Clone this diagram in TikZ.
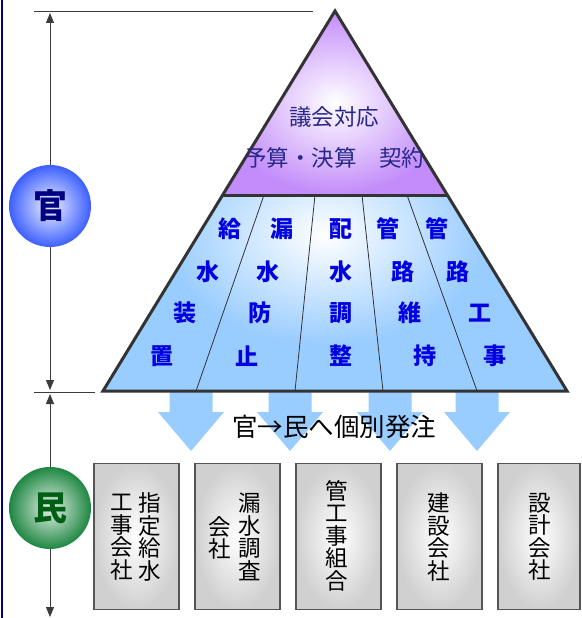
\documentclass[tikz,border=0pt]{standalone}
\usepackage{fontspec}
\newfontfamily\cjk{Noto Sans CJK JP}
\usetikzlibrary{arrows.meta}
\definecolor{skyb}{RGB}{153,204,255}
\definecolor{purp}{RGB}{195,140,250}
\definecolor{edgec}{RGB}{51,51,51}
\definecolor{navyc}{RGB}{0,0,128}
\definecolor{colblue}{RGB}{0,0,225}
\definecolor{purtext}{RGB}{40,40,140}
\definecolor{kanblue}{RGB}{60,95,255}
\definecolor{mingreen}{RGB}{30,135,65}
\definecolor{mintext}{RGB}{0,95,20}
\definecolor{boxgray}{RGB}{208,208,208}
\definecolor{boxedge}{RGB}{85,85,85}
\definecolor{dimc}{RGB}{60,60,60}
\begin{document}
\begin{tikzpicture}[x=1pt,y=-1pt,
  dimline/.style={draw=dimc, line width=1pt},
  dimarrow/.style={draw=dimc, line width=1pt, -{Triangle[length=10pt,width=8pt]}},
  colchar/.style={font=\cjk\bfseries\fontsize{23}{23}\selectfont, text=colblue, inner sep=0pt},
  purtxt/.style={font=\cjk\fontsize{22.5}{22.5}\selectfont, text=purtext, inner sep=0pt},
  boxnode/.style={draw=boxedge, line width=1.3pt, inner color=white, outer color=boxgray, minimum width=85pt, minimum height=146pt, inner sep=0pt},
  boxtext/.style={font=\cjk\fontsize{22.5}{22.5}\selectfont, align=center, inner sep=0pt},
  badge/.style={circle, minimum size=82pt, inner sep=0pt, font=\cjk\bfseries\fontsize{34}{34}\selectfont},
  divider/.style={draw=edgec, line width=0.8pt},
  blockarrow/.style={fill=skyb}
]
\useasboundingbox (0,0) rectangle (581,618);
\fill[white] (0,0) rectangle (581,618);
% left border
\draw[navyc, line width=2pt] (2,0) -- (2,618);
% block arrows
\foreach \c in {191,290,390,477}
  \fill[blockarrow] (\c-21.5,390) -- (\c+21.5,390) -- (\c+21.5,412) -- (\c+33,412)
     -- (\c,451) -- (\c-33,412) -- (\c-21.5,412) -- cycle;
% triangle
\coordinate (apex) at (335,11);
\coordinate (bl) at (103,391);
\coordinate (br) at (567,391);
\coordinate (pl) at (222.7,195);
\coordinate (pr) at (447.3,195);
\shade[inner color=white, outer color=purp] (apex) -- (pl) -- (pr) -- cycle;
\fill[skyb] (pl) -- (pr) -- (br) -- (bl) -- cycle;
\begin{scope}
  \clip (pl) -- (pr) -- (br) -- (bl) -- cycle;
  \shade[inner color=white, outer color=skyb] (325,235) ellipse [x radius=160pt, y radius=110pt];
\end{scope}
\coordinate (d1t) at (264,195); \coordinate (d1b) at (196,391);
\coordinate (d2t) at (315,195); \coordinate (d2b) at (295,391);
\coordinate (d3t) at (362,195); \coordinate (d3b) at (383,391);
\coordinate (d4t) at (407,195); \coordinate (d4b) at (477,391);
\draw[divider] (d1t) -- (d1b);
\draw[divider] (d2t) -- (d2b);
\draw[divider] (d3t) -- (d3b);
\draw[divider] (d4t) -- (d4b);
\draw[edgec, line width=3pt] (pl) -- (pr);
\draw[edgec, line width=3pt, line join=miter] (apex) -- (br) -- (bl) -- cycle;
% purple texts
\node[purtxt] (gikai) at (334,117) {議会対応};
\node[purtxt] (yosan) at (334,158) {予算・決算　契約};
% column chars
\foreach \t/\x/\y/\n in {給/230/229/a1,水/208/272/a2,装/185/313/a3,置/162/356/a4,
  漏/282/229/b1,水/268/272/b2,防/260/313/b3,止/247/356/b4,
  配/341/229/c1,水/341/272/c2,調/341/313/c3,整/341/356/c4,
  管/388/229/e1,路/403/272/e2,維/410/313/e3,持/425/356/e4,
  管/437/229/f1,路/458/272/f2,工/480/313/f3,事/495/356/f4}
  \node[colchar] (\n) at (\x,\y) {\t};
% order text
\node[font=\cjk\fontsize{25.5}{25.5}\selectfont, inner sep=0pt] (hatchu) at (334,427) {官→民へ個別発注};
% badges
\node[badge, inner color=white!92!kanblue, outer color=kanblue, text=navyc] (kan) at (50,206) {官};
\node[badge, inner color=white!88!mingreen, outer color=mingreen, text=mintext] (min) at (50,508) {民};
% dimension lines
\coordinate (t1) at (34,12); \coordinate (t2) at (313,12);
\draw[dimline] (t1) -- (t2);
\coordinate (topTip) at (50,13);
\draw[dimarrow] (kan.north) -- (topTip);
\coordinate (midTipA) at (50,390);
\draw[dimarrow] (kan.south) -- (midTipA);
\coordinate (m1) at (34,392); \coordinate (m2) at (95,392);
\draw[dimline] (m1) -- (m2);
\coordinate (midTipB) at (50,394);
\draw[dimarrow] (min.north) -- (midTipB);
\coordinate (botTip) at (50,617);
\draw[dimarrow] (min.south) -- (botTip);
% boxes
\node[boxnode] (bx1) at (136.5,536.5) {};
\node[boxnode] (bx2) at (237.5,536.5) {};
\node[boxnode] (bx3) at (338.5,536.5) {};
\node[boxnode] (bx4) at (439.5,536.5) {};
\node[boxnode, minimum width=82pt] (bx5) at (539,536.5) {};
\node[boxtext] (t1r) at (150,537) {指\\定\\給\\水};
\node[boxtext] (t1l) at (122,537) {工\\事\\会\\社};
\node[boxtext] (t2r) at (250,537) {漏\\水\\調\\査};
\node[boxtext] (t2l) at (220,538) {会\\社};
\node[boxtext] (t3) at (337,535.5) {管\\工\\事\\組\\合};
\node[boxtext] (t4) at (439,537) {建\\設\\会\\社};
\node[boxtext] (t5) at (540,537) {設\\計\\会\\社};
\end{tikzpicture}
\end{document}
